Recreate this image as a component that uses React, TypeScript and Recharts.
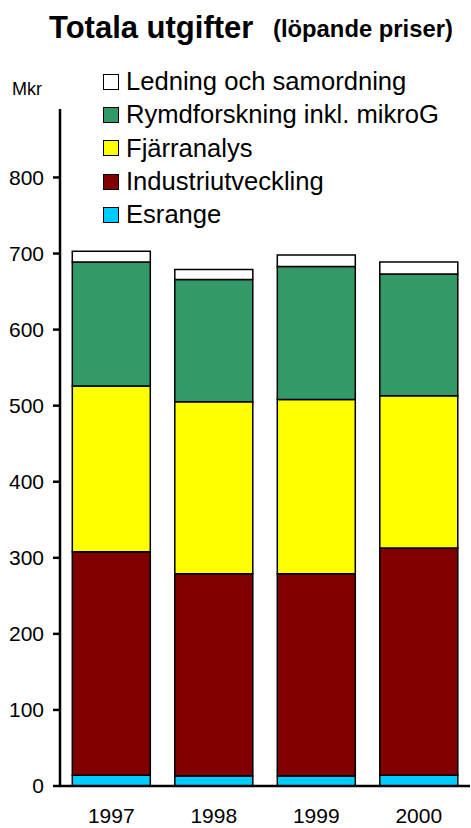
import React from "react";
import { BarChart, Bar, XAxis, YAxis, Legend } from "recharts";

// Years shown on the category axis
const years = ["1997", "1998", "1999", "2000"];

// Expenditure per programme area, Mkr (current prices)
const esrange = [14, 13, 13, 14];
const industriutveckling = [294, 266, 266, 299];
const fjarranalys = [218, 226, 229, 200];
const rymdforskning = [163, 161, 175, 160];
const ledning = [14, 13, 15, 16];

// Value axis ticks
const yTicks = [0, 100, 200, 300, 400, 500, 600, 700, 800];
// Category boundaries where the x-axis tick marks sit
const edgeTicks = [0, 1, 2, 3, 4];

const series = [
  { key: "esrange", name: "Esrange", color: "#00CCFF", values: esrange },
  { key: "industri", name: "Industriutveckling", color: "#800000", values: industriutveckling },
  { key: "fjarr", name: "Fjärranalys", color: "#FFFF00", values: fjarranalys },
  { key: "rymd", name: "Rymdforskning inkl. mikroG", color: "#339966", values: rymdforskning },
  { key: "ledning", name: "Ledning och samordning", color: "#FFFFFF", values: ledning },
];

const data = years.map((year, i) => {
  const row: Record<string, string | number> = { year };
  series.forEach((s) => {
    row[s.key] = s.values[i];
  });
  return row;
});

const FONT = "'Liberation Sans', Arial, Helvetica, sans-serif";

function LegendBox() {
  const rows = [...series].reverse();
  return (
    <div style={{ fontFamily: FONT }}>
      {rows.map((s) => (
        <div
          key={s.key}
          style={{ display: "flex", alignItems: "center", height: 33.3 }}
        >
          <div
            style={{
              width: 14,
              height: 14,
              background: s.color,
              border: "1.5px solid #000",
              marginRight: 7,
              flex: "none",
            }}
          />
          <span style={{ fontSize: 25.6, color: "#000", whiteSpace: "nowrap" }}>
            {s.name}
          </span>
        </div>
      ))}
    </div>
  );
}

export default function App() {
  return (
    <div
      style={{
        position: "absolute",
        left: 0,
        top: 0,
        width: 471,
        height: 828,
        background: "#fff",
        fontFamily: FONT,
      }}
    >
      <BarChart
        width={471}
        height={828}
        data={data}
        margin={{ top: 109, right: 1, bottom: 40, left: 0 }}
        barCategoryGap="12%"
      >
        <XAxis
          xAxisId="cat"
          dataKey="year"
          height={1}
          tickLine={false}
          tickSize={0}
          tickMargin={22}
          axisLine={{ stroke: "#000", strokeWidth: 2.5 }}
          tick={{ fill: "#000", fontSize: 21, fontFamily: FONT }}
        />
        <XAxis
          xAxisId="edge"
          type="number"
          domain={[0, 4]}
          ticks={edgeTicks}
          height={1}
          tick={false}
          axisLine={false}
          tickLine={{ stroke: "#000", strokeWidth: 2.5 }}
          tickSize={7}
        />
        <YAxis
          width={60}
          domain={[0, 890]}
          ticks={yTicks}
          interval={0}
          tickSize={7}
          tickMargin={9}
          axisLine={{ stroke: "#000", strokeWidth: 2.5 }}
          tickLine={{ stroke: "#000", strokeWidth: 2.5 }}
          tick={{ fill: "#000", fontSize: 21, fontFamily: FONT }}
          allowDataOverflow
        />
        <Legend
          layout="vertical"
          align="center"
          verticalAlign="middle"
          wrapperStyle={{ top: 65, left: 103, width: 365 }}
          content={() => <LegendBox />}
        />
        {series.map((s) => (
          <Bar
            key={s.key}
            xAxisId="cat"
            dataKey={s.key}
            name={s.name}
            stackId="total"
            fill={s.color}
            stroke="#000"
            strokeWidth={1.5}
            isAnimationActive={false}
          />
        ))}
      </BarChart>
      <svg
        width={471}
        height={110}
        style={{ position: "absolute", left: 0, top: 0, pointerEvents: "none" }}
      >
        <text x={49} y={38} fontSize={31} fontWeight="bold" fill="#000" fontFamily={FONT}>
          Totala utgifter
        </text>
        <text x={273} y={37} fontSize={23.8} fontWeight="bold" fill="#000" fontFamily={FONT}>
          (löpande priser)
        </text>
        <text x={12} y={95} fontSize={18} fill="#000" fontFamily={FONT}>
          Mkr
        </text>
      </svg>
    </div>
  );
}
